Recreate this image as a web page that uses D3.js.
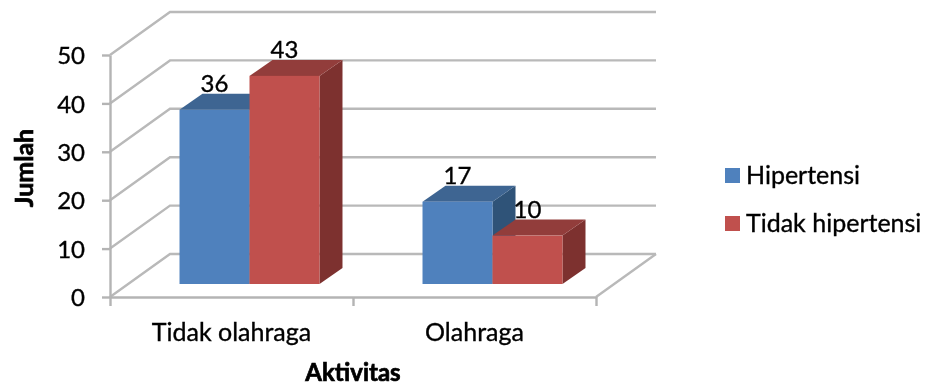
<!DOCTYPE html>
<html>
<head>
<meta charset="utf-8">
<script src="https://cdn.jsdelivr.net/npm/d3@7"></script>
<style>
html,body{margin:0;padding:0;background:#fff;overflow:hidden}
svg{display:block;filter:blur(0.55px)}
text{font-family:Lato,"Open Sans",sans-serif;fill:#000;stroke:#000;stroke-width:0.35px}
text.bold{stroke-width:0.7px;font-weight:700}
.domain,.tick line{stroke:#b4b4b4;stroke-width:2.4px}
</style>
</head>
<body>
<svg id="c" width="926" height="386"></svg>
<script>
const categories = ["Tidak olahraga", "Olahraga"];
const seriesNames = ["Hipertensi", "Tidak hipertensi"];
const hipertensi = [36, 17];
const tidakHipertensi = [43, 10];
const yTicks = [0, 10, 20, 30, 40, 50];
const palette = {
  Hipertensi: {front: "#4F81BD", top: "#3E6592", side: "#2F5378"},
  "Tidak hipertensi": {front: "#C0504D", top: "#923D3B", side: "#7D312F"}
};
const valuesBySeries = [hipertensi, tidakHipertensi];

const svg = d3.select("#c");
const wall = {dx: 60, dy: -43};
const bar = {offX: 18, offY: -13, dx: 23, dy: -16};
const y = d3.scaleLinear().domain([0, 50]).range([297, 55]);
const x0 = d3.scaleBand().domain(categories).range([110, 596]);
const x1 = d3.scaleBand().domain(seriesNames).range([0, x0.bandwidth()]).paddingInner(0).paddingOuter(0.736);
const pts = a => a.map(p => p.join(",")).join(" ");

// Side wall and back wall gridlines
const grid = svg.append("g").attr("fill", "none").attr("stroke", "#b9b9b9").attr("stroke-width", 2.4);
grid.selectAll("polyline").data(yTicks).join("polyline")
  .attr("points", d => pts([[110, y(d)], [110 + wall.dx, y(d) + wall.dy], [596 + wall.dx, y(d) + wall.dy]]));
grid.append("line")
  .attr("x1", 596).attr("y1", y(0)).attr("x2", 596 + wall.dx).attr("y2", y(0) + wall.dy);

// Bars
const rows = [];
categories.forEach((c, i) => seriesNames.forEach((s, j) => rows.push({c, s, v: valuesBySeries[j][i]})));
const gBars = svg.append("g");
rows.forEach(r => {
  const l = x0(r.c) + x1(r.s) + bar.offX, w = x1.bandwidth(), R = l + w;
  const b = y(0) + bar.offY, t = y(r.v) + bar.offY;
  const col = palette[r.s];
  const g = gBars.append("g");
  g.append("polygon").attr("fill", col.side)
    .attr("points", pts([[R, t], [R + bar.dx, t + bar.dy], [R + bar.dx, b + bar.dy], [R, b]]));
  g.append("polygon").attr("fill", col.top)
    .attr("points", pts([[l, t], [l + bar.dx, t + bar.dy], [R + bar.dx, t + bar.dy], [R, t]]));
  g.append("rect").attr("fill", col.front).attr("x", l).attr("y", t).attr("width", w).attr("height", b - t);
});

// Axes
const axisY = d3.axisLeft(y).tickValues(yTicks).tickSize(8).tickPadding(12).tickSizeOuter(0);
const gy = svg.append("g").attr("transform", "translate(110,0)").call(axisY);
gy.selectAll("text").style("font-size", "24px").style("font-family", "Lato,sans-serif").attr("dy", "0.36em").attr("x", -25);

const xEdge = d3.scaleLinear().domain([0, categories.length]).range([110, 596]);
const axisX = d3.axisBottom(xEdge).tickValues(d3.range(categories.length + 1)).tickSize(9).tickFormat("").tickSizeOuter(0);
svg.append("g").attr("transform", `translate(0,${y(0)})`).call(axisX);

svg.append("g").selectAll("text").data(categories).join("text")
  .attr("x", d => x0(d) + x0.bandwidth() / 2).attr("y", 341)
  .attr("text-anchor", "middle").style("font-size", "25px").text(d => d);

// Data labels
svg.append("g").selectAll("text").data(rows).join("text")
  .attr("x", d => x0(d.c) + x1(d.s) + bar.offX + x1.bandwidth() / 2)
  .attr("y", d => y(d.v) + bar.offY - 18)
  .attr("text-anchor", "middle").style("font-size", "24px").text(d => d.v);

// Axis titles
svg.append("text").attr("class", "bold").attr("x", 353).attr("y", 381).attr("text-anchor", "middle")
  .style("font-size", "24px").text("Aktivitas");
svg.append("text").attr("class", "bold").attr("transform", "translate(33,168) rotate(-90)").attr("text-anchor", "middle")
  .style("font-size", "25px").text("Jumlah");

// Legend
const lg = svg.append("g").selectAll("g").data(seriesNames).join("g")
  .attr("transform", (d, i) => `translate(725,${168 + i * 48})`);
lg.append("rect").attr("width", 15).attr("height", 15).attr("fill", d => palette[d].front);
lg.append("text").attr("x", 21).attr("y", 16).style("font-size", "25px").text(d => d);
</script>
</body>
</html>
